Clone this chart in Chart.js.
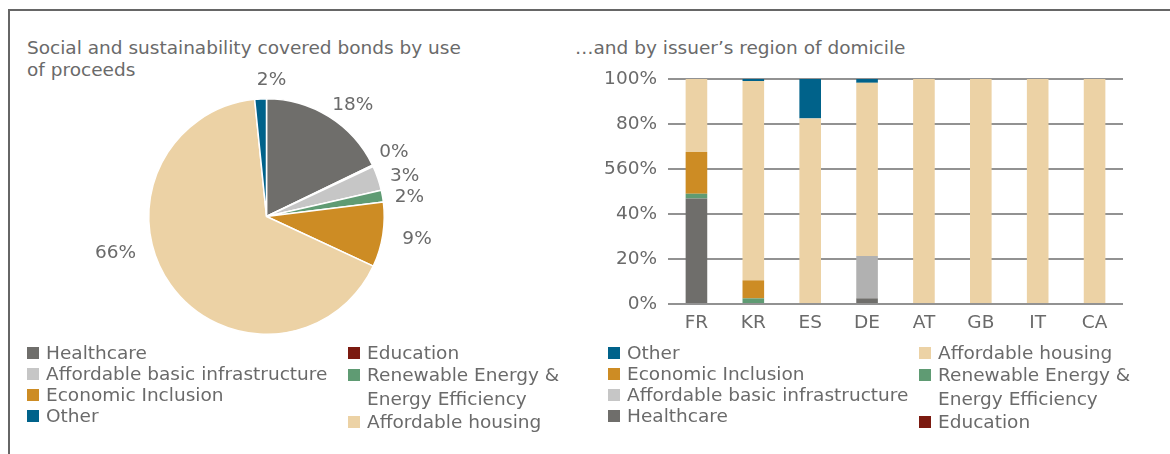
<!DOCTYPE html>
<html>
<head>
<meta charset="utf-8">
<script src="https://cdn.jsdelivr.net/npm/chart.js@4"></script>
<style>
  html, body { margin: 0; padding: 0; background: #fff; }
  body { width: 1170px; height: 454px; position: relative; overflow: hidden;
         font-family: "DejaVu Sans", Verdana, sans-serif; color: #6a6a6a; }
  .frame-top { position: absolute; left: 8px; top: 9px; width: 1162px; height: 2px; background: #666; }
  .frame-left { position: absolute; left: 8px; top: 9px; width: 2px; height: 445px; background: #666; }
  canvas { position: absolute; top: 0; }
  .title { position: absolute; top: 37px; font-size: 18.5px; line-height: 22px; }
  .legend { position: absolute; top: 342px; display: flex; font-size: 18.5px; }
  .legend .col { display: flex; flex-direction: column; }
  .legend .item { position: relative; line-height: 21px; padding-left: 19px; white-space: nowrap; }
  .legend .item.wrap { white-space: normal; line-height: 24px; }
  .legend .box { position: absolute; left: 0; top: 5px; width: 12px; height: 12px; }
  .legend .item.wrap .box { top: 6px; }
</style>
</head>
<body>
<div class="frame-top"></div>
<div class="frame-left"></div>

<div class="title" style="left:27px; width:450px;">Social and sustainability covered bonds by use of proceeds</div>
<div class="title" style="left:575px;">…and by issuer’s region of domicile</div>

<canvas id="pieChart" width="580" height="454" style="left:0; width:580px; height:454px;"></canvas>
<canvas id="barChart" width="590" height="454" style="left:580px; width:590px; height:454px;"></canvas>

<div class="legend" id="pieLegend" style="left:27px;"></div>
<div class="legend" id="barLegend" style="left:608px;"></div>

<script>
// use of proceeds categories (bottom -> top of each stack)
const categories = ["Healthcare", "Education", "Affordable basic infrastructure",
  "Renewable Energy & Energy Efficiency", "Economic Inclusion", "Affordable housing", "Other"];
const colors = ["#6f6e6b", "#7b1a10", "#c6c6c6", "#5f9b73", "#cd8c24", "#ecd2a5", "#00628a"];
const barColors = ["#6f6e6b", "#7b1a10", "#b1b1b1", "#5f9b73", "#cd8c24", "#ecd2a5", "#00628a"];

// share of total (%), left pie
const pieShares = [17.8, 0.2, 3.4, 1.6, 8.9, 66.4, 1.6];

// issuer regions and share (%) of each use of proceeds
const regions = ["FR", "KR", "ES", "DE", "AT", "GB", "IT", "CA"];
const healthcare     = [46.9, 0,    0,    2.5,  0,   0,   0,   0];
const education      = [0,    0,    0,    0,    0,   0,   0,   0];
const basicInfra     = [0,    0,    0,    18.8, 0,   0,   0,   0];
const renewable      = [2.1,  2.5,  0,    0,    0,   0,   0,   0];
const econInclusion  = [18.6, 8.0,  0,    0,    0,   0,   0,   0];
const housing        = [32.4, 88.6, 82.5, 77.0, 100, 100, 100, 100];
const other          = [0,    0.9,  17.5, 1.7,  0,   0,   0,   0];
const barSeries = [healthcare, education, basicInfra, renewable, econInclusion, housing, other];

// y axis tick labels as printed in the source (0..100 step 20)
const yTickLabels = ["0%", "20%", "40%", "560%", "80%", "100%"];

const textColor = "#6a6a6a";
Chart.defaults.font.family = '"DejaVu Sans", Verdana, sans-serif';
Chart.defaults.font.size = 18.5;
Chart.defaults.color = textColor;
Chart.defaults.animation = false;

// percent labels outside the pie
const outsideLabels = {
  id: "outsideLabels",
  afterDatasetsDraw(chart, args, opts) {
    const ctx = chart.ctx;
    const meta = chart.getDatasetMeta(0);
    const data = chart.data.datasets[0].data;
    const total = data.reduce((a, b) => a + b, 0);
    ctx.save();
    ctx.font = '18.5px "DejaVu Sans", Verdana, sans-serif';
    ctx.fillStyle = textColor;
    ctx.textAlign = "center";
    ctx.textBaseline = "middle";
    meta.data.forEach((arc, i) => {
      const text = Math.round(data[i] / total * 100) + "%";
      let a = (arc.startAngle + arc.endAngle) / 2;
      if (opts.angles && opts.angles[i] !== undefined) a = (opts.angles[i] - 90) * Math.PI / 180;
      const dx = Math.cos(a), dy = Math.sin(a);
      const w = ctx.measureText(text).width;
      const d = arc.outerRadius + (opts.gap[i] || 12);
      const x = arc.x + d * dx + w / 2 * dx;
      const y = arc.y + d * dy + 6.5 * dy;
      ctx.fillText(text, x, y);
    });
    ctx.restore();
  }
};

new Chart(document.getElementById("pieChart"), {
  type: "pie",
  data: {
    labels: categories,
    datasets: [{
      data: pieShares,
      backgroundColor: colors,
      borderColor: "#fff",
      borderWidth: 1.5,
    }],
  },
  options: {
    responsive: false,
    layout: { padding: { left: 148, right: 195, top: 98, bottom: 119 } },
    plugins: {
      legend: { display: false },
      tooltip: { enabled: false },
      outsideLabels: {
        angles: { 0: 35, 1: 62, 2: 73, 3: 82, 4: 99, 5: 255, 6: 2 },
        gap: { 4: 20, 5: 18 },
      },
    },
  },
  plugins: [outsideLabels],
});

new Chart(document.getElementById("barChart"), {
  type: "bar",
  data: {
    labels: regions,
    datasets: categories.map((name, i) => ({
      label: name,
      data: barSeries[i],
      backgroundColor: barColors[i],
      borderWidth: 0,
      barPercentage: 0.38,
      categoryPercentage: 1,
    })),
  },
  options: {
    responsive: false,
    layout: { padding: { left: 0, right: 47, top: 79, bottom: 120 } },
    plugins: {
      legend: { display: false },
      tooltip: { enabled: false },
    },
    scales: {
      x: {
        stacked: true,
        grid: { display: false, drawTicks: false },
        border: { display: false },
        ticks: { padding: 8, color: textColor },
        afterFit: (scale) => { scale.height = 30; },
      },
      y: {
        stacked: true,
        min: 0,
        max: 100,
        grid: { color: "#929292", lineWidth: 2, drawTicks: false },
        border: { display: false },
        ticks: {
          stepSize: 20,
          padding: 11,
          color: textColor,
          callback: (v) => yTickLabels[v / 20],
        },
        afterFit: (scale) => { scale.width = 88; },
      },
    },
  },
});

// two-column legends, filled row by row
function buildLegend(el, order, palette) {
  const cols = [document.createElement("div"), document.createElement("div")];
  cols.forEach((c) => { c.className = "col"; el.appendChild(c); });
  order.forEach((idx, k) => {
    const item = document.createElement("div");
    item.className = "item";
    const name = categories[idx];
    if (name.indexOf("&") > 0) {
      item.className = "item wrap";
      item.style.width = "210px";
    }
    const box = document.createElement("span");
    box.className = "box";
    box.style.background = palette[idx];
    item.appendChild(box);
    item.appendChild(document.createTextNode(name));
    cols[k % 2].appendChild(item);
  });
  return cols;
}

const pieCols = buildLegend(document.getElementById("pieLegend"), [0, 1, 2, 3, 4, 5, 6], colors);
pieCols[0].style.width = "321px";
const barCols = buildLegend(document.getElementById("barLegend"), [6, 5, 4, 3, 2, 1, 0], colors);
barCols[0].style.width = "311px";
</script>
</body>
</html>
